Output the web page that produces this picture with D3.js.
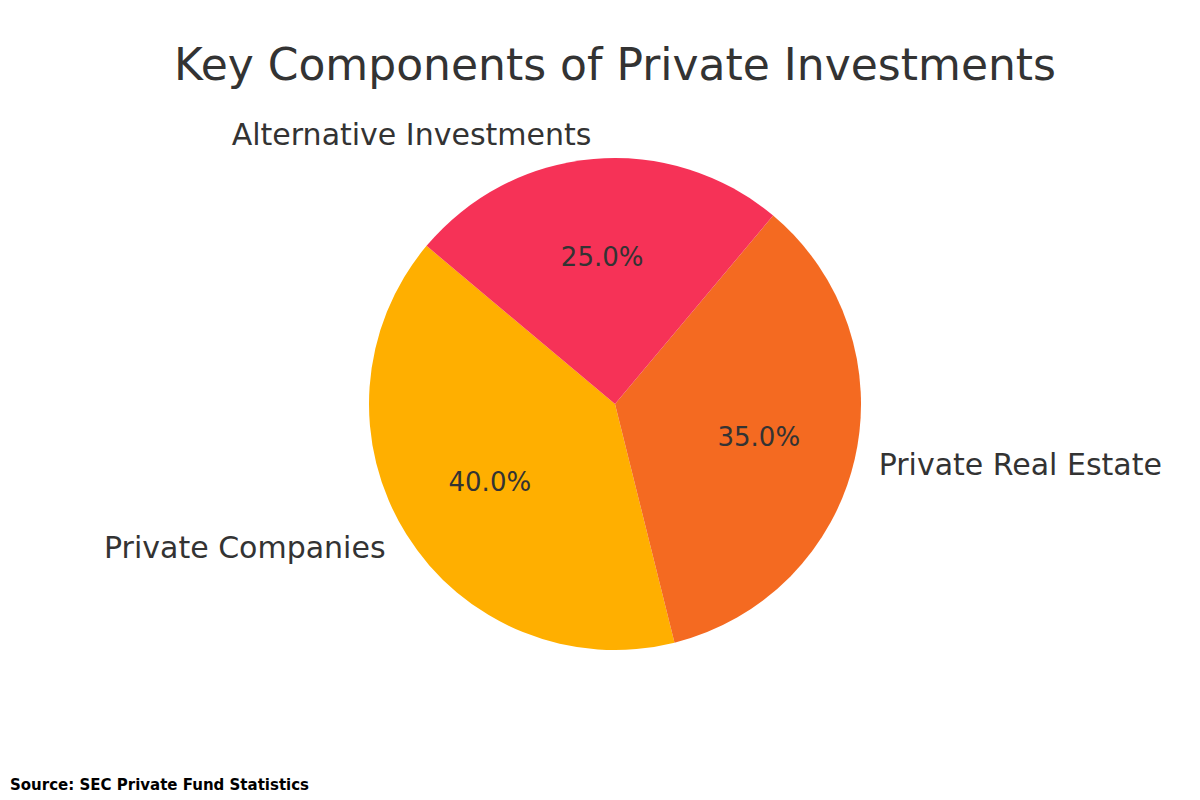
<!DOCTYPE html>
<html>
<head>
<meta charset="utf-8">
<script src="https://cdn.jsdelivr.net/npm/d3@7"></script>
<style>
  body { margin: 0; background: #fff; }
  text { font-family: "DejaVu Sans", sans-serif; }
</style>
</head>
<body>
<svg id="chart" width="1200" height="800"></svg>
<script>
const categories = ["Private Companies", "Private Real Estate", "Alternative Investments"];
const values = [40, 35, 25];
const colors = ["#FFAF00", "#F46A21", "#F63257"];

const width = 1200, height = 800;
const cx = 615, cy = 404, r = 246;
const startDeg = 140; // matplotlib startangle, counterclockwise

const svg = d3.select("#chart");

svg.append("text")
  .attr("x", 615).attr("y", 80)
  .attr("text-anchor", "middle")
  .attr("font-size", 44)
  .attr("fill", "#333")
  .text("Key Components of Private Investments");

const toRad = d => d * Math.PI / 180;
// d3 angles: clockwise from 12 o'clock; counterclockwise => decreasing
const pie = d3.pie().sort(null)
  .startAngle(toRad(90 - startDeg))
  .endAngle(toRad(90 - startDeg - 360));

const arcs = pie(values.map((v, i) => ({ v, i })).map(d => d.v));
const arc = d3.arc().innerRadius(0).outerRadius(r);

const g = svg.append("g").attr("transform", `translate(${cx},${cy})`);

g.selectAll("path")
  .data(arcs)
  .join("path")
  .attr("d", arc)
  .attr("fill", (d, i) => colors[i]);

const total = d3.sum(values);
arcs.forEach((d, i) => {
  const mid = (d.startAngle + d.endAngle) / 2;
  const sx = Math.sin(mid), sy = -Math.cos(mid);
  g.append("text")
    .attr("x", sx * r * 1.1).attr("y", sy * r * 1.1)
    .attr("text-anchor", sx > 0 ? "start" : "end")
    .attr("dominant-baseline", "central")
    .attr("font-size", 30)
    .attr("fill", "#333")
    .text(categories[i]);
  g.append("text")
    .attr("x", sx * r * 0.6).attr("y", sy * r * 0.6)
    .attr("text-anchor", "middle")
    .attr("dominant-baseline", "central")
    .attr("font-size", 26)
    .attr("fill", "#333")
    .text((values[i] / total * 100).toFixed(1) + "%");
});

svg.append("text")
  .attr("x", 10).attr("y", 790)
  .attr("font-size", 15)
  .attr("font-weight", "bold")
  .attr("fill", "#000")
  .text("Source: SEC Private Fund Statistics");
</script>
</body>
</html>
